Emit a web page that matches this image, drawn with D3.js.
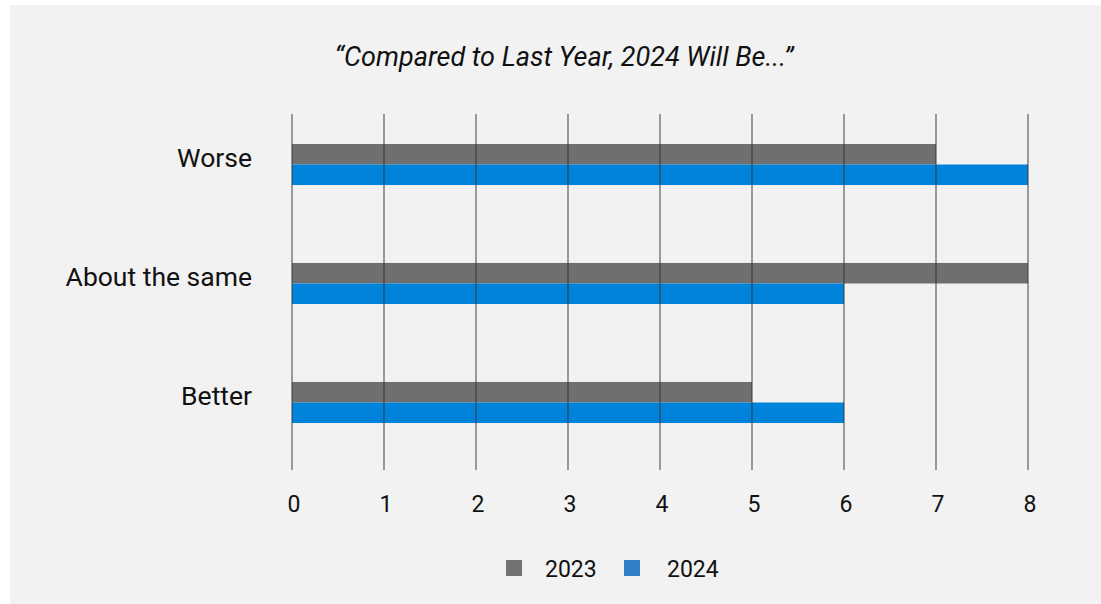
<!DOCTYPE html>
<html>
<head>
<meta charset="utf-8">
<script src="https://cdn.jsdelivr.net/npm/d3@7"></script>
<style>
  html, body { margin: 0; padding: 0; background: #ffffff; }
  svg { display: block; font-family: Roboto, "Noto Sans", sans-serif; }
</style>
</head>
<body>
<svg id="chart" width="1101" height="604"></svg>
<script>
const categories = ["Worse", "About the same", "Better"];
const seriesNames = ["2023", "2024"];
const values2023 = [7, 8, 5];
const values2024 = [8, 6, 6];
const xTicks = [0, 1, 2, 3, 4, 5, 6, 7, 8];
const title = "\u201CCompared to Last Year, 2024 Will Be...\u201D";

const barColors = { "2023": "#6f6f6f", "2024": "#0084db" };
const legendColors = { "2023": "#737373", "2024": "#3280c6" };

const svg = d3.select("#chart");

// panel background
svg.append("rect")
  .attr("x", 10).attr("y", 5)
  .attr("width", 1091).attr("height", 599)
  .attr("fill", "#f2f2f2");

const x = d3.scaleLinear().domain([0, 8]).range([292, 1028]);
const y = d3.scaleBand().domain(categories)
  .range([105, 462]).paddingInner(0.655).paddingOuter(0.3275);
const ySub = d3.scaleBand().domain(seriesNames).range([0, y.bandwidth()]);

const data = categories.map((c, i) => ({
  category: c,
  values: [
    { series: "2023", value: values2023[i] },
    { series: "2024", value: values2024[i] }
  ]
}));

// bars
const groups = svg.append("g").selectAll("g")
  .data(data).join("g")
  .attr("transform", d => `translate(0,${y(d.category)})`);

groups.selectAll("rect")
  .data(d => d.values).join("rect")
  .attr("x", x(0))
  .attr("y", d => ySub(d.series))
  .attr("width", d => x(d.value) - x(0))
  .attr("height", ySub.bandwidth())
  .attr("fill", d => barColors[d.series]);

// gridlines (on top, semi-transparent)
svg.append("g").selectAll("line")
  .data(xTicks).join("line")
  .attr("x1", d => x(d)).attr("x2", d => x(d))
  .attr("y1", 114).attr("y2", 470)
  .attr("stroke", "#333333")
  .attr("stroke-opacity", 0.55)
  .attr("stroke-width", 1.7);

// x tick labels
svg.append("g").selectAll("text")
  .data(xTicks).join("text")
  .attr("x", d => x(d) + 2)
  .attr("y", 512)
  .attr("text-anchor", "middle")
  .attr("font-size", 23)
  .attr("fill", "#111")
  .text(d => d);

// y category labels
svg.append("g").selectAll("text")
  .data(categories).join("text")
  .attr("x", 252)
  .attr("y", d => y(d) + y.bandwidth() / 2 + 2)
  .attr("text-anchor", "end")
  .attr("font-size", 26.5)
  .attr("fill", "#111")
  .text(d => d);

// title
svg.append("text")
  .attr("x", 564).attr("y", 66)
  .attr("text-anchor", "middle")
  .attr("font-size", 27)
  .attr("font-style", "italic")
  .attr("fill", "#111")
  .text(title);

// legend
const legendItems = [
  { name: "2023", sx: 506, tx: 545 },
  { name: "2024", sx: 624, tx: 667 }
];
const lg = svg.append("g");
lg.selectAll("rect").data(legendItems).join("rect")
  .attr("x", d => d.sx).attr("y", 560)
  .attr("width", 16).attr("height", 16)
  .attr("fill", d => legendColors[d.name]);
lg.selectAll("text").data(legendItems).join("text")
  .attr("x", d => d.tx).attr("y", 577)
  .attr("font-size", 23)
  .attr("fill", "#111")
  .text(d => d.name);
</script>
</body>
</html>
